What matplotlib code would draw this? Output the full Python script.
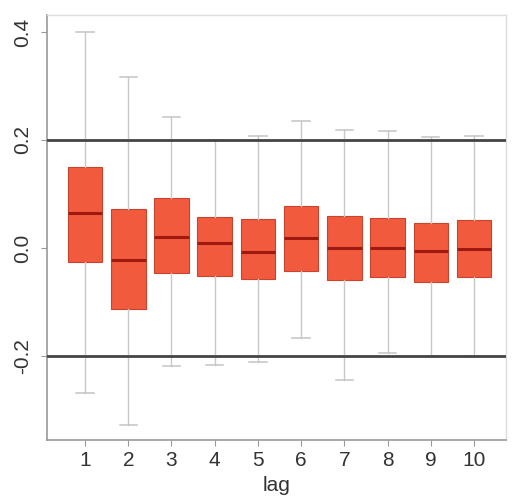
import matplotlib
matplotlib.use("Agg")
import matplotlib.pyplot as plt

plt.rcParams["font.family"] = ["Liberation Sans", "DejaVu Sans"]

lags = [1, 2, 3, 4, 5, 6, 7, 8, 9, 10]
q1 = [-0.026, -0.113, -0.046, -0.052, -0.057, -0.042, -0.059, -0.054, -0.063, -0.054]
med = [0.065, -0.022, 0.020, 0.009, -0.007, 0.019, 0.000, 0.000, -0.005, -0.002]
q3 = [0.150, 0.072, 0.093, 0.057, 0.054, 0.078, 0.059, 0.056, 0.046, 0.052]
whislo = [-0.269, -0.328, -0.219, -0.217, -0.211, -0.167, -0.244, -0.194, -0.200, -0.200]
whishi = [0.400, 0.317, 0.243, 0.200, 0.207, 0.235, 0.218, 0.217, 0.205, 0.207]
ref_lines = [0.2, -0.2]
yticks = [0.4, 0.2, 0.0, -0.2]
ytick_labels = ["0.4", "0.2", "0.0", "-0.2"]

fig = plt.figure(figsize=(5.16, 5.0), dpi=100)
ax = fig.add_axes([47 / 516, 60 / 500, 459 / 516, 425 / 500])

stats = []
for i in range(len(lags)):
    stats.append(dict(med=med[i], q1=q1[i], q3=q3[i], whislo=whislo[i], whishi=whishi[i], fliers=[], label=str(lags[i])))

ax.bxp(stats, positions=lags, widths=0.8, patch_artist=True, showfliers=False,
       boxprops=dict(facecolor="#f25a3e", edgecolor="#c8442c", linewidth=0.8),
       medianprops=dict(color="#9e1a10", linewidth=2.2),
       whiskerprops=dict(color="#c8c8c8", linewidth=1.0),
       capprops=dict(color="#c4c4c4", linewidth=1.1),
       capwidths=0.4, zorder=3)

for y in ref_lines:
    ax.axhline(y, color="#444444", linewidth=2.0, zorder=4)

ax.set_xlim(0.12, 10.74)
ax.set_ylim(-0.3556, 0.4315)
ax.set_yticks(yticks)
ax.set_yticklabels(ytick_labels, rotation=90, va="center", fontsize=15, color="#333333")
ax.set_xticks(lags)
ax.set_xticklabels([str(l) for l in lags], fontsize=15, color="#333333")
ax.set_xlabel("lag", fontsize=15, color="#333333", labelpad=4)

for s in ["left", "bottom"]:
    ax.spines[s].set_color("#999999")
    ax.spines[s].set_linewidth(1.2)
for s in ["top", "right"]:
    ax.spines[s].set_color("#dddddd")
    ax.spines[s].set_linewidth(1.0)
ax.tick_params(axis="both", color="#999999", length=4)
ax.tick_params(axis="y", pad=7)
ax.tick_params(axis="x", pad=4)

fig.savefig("out.png", dpi=100)
